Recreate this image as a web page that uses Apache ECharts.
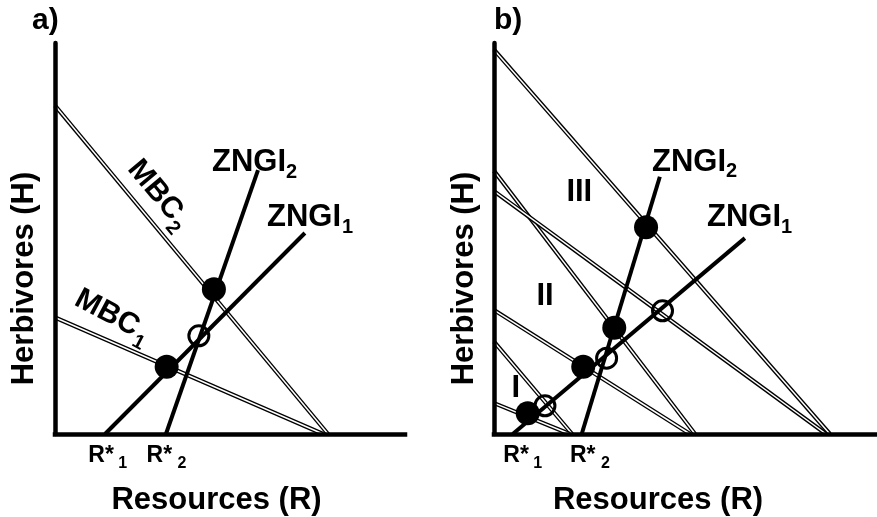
<!DOCTYPE html>
<html>
<head>
<meta charset="utf-8">
<script src="https://cdn.jsdelivr.net/npm/echarts@6/dist/echarts.min.js"></script>
<style>
  html, body { margin: 0; background: #fff; }
  #chart { width: 877px; height: 517px; }
</style>
</head>
<body>
<div id="chart"></div>
<script>
// panel a) -- MBC lines, ZNGIs and equilibria (arbitrary units 0-100)
const mbcA1 = [[0, 29.8], [76.6, 0]];
const mbcA2 = [[0, 84.0], [78.0, 0]];
const zngiA1 = [[14.3, 0], [71.4, 51.4]];
const zngiA2 = [[31.7, 0], [58.0, 67.5]];
const stableA = [[31.9, 17.2], [45.4, 37.0]];
const unstableA = [[41.1, 25.1]];

// panel b) -- three pairs of MBC lines (regions I, II, III)
const mbcB1 = [[0, 98.3], [87.7, 0]];
const mbcB2 = [[0, 67.3], [52.5, 0]];
const mbcB3 = [[0, 62.1], [86.7, 0]];
const mbcB4 = [[0, 31.7], [51.2, 0]];
const mbcB5 = [[0, 23.6], [20.4, 0]];
const mbcB6 = [[0, 7.9], [19.8, 0]];
const zngiB1 = [[4.9, 0], [65.5, 50.1]];
const zngiB2 = [[22.9, 0], [43.3, 65.8]];
const stableB = [[39.7, 52.9], [31.4, 27.2], [23.3, 17.2], [8.8, 5.3]];
const unstableB = [[44.0, 31.5], [29.4, 19.4], [13.3, 7.2]];

const FONT = "'Liberation Sans', Arial, Helvetica, sans-serif";

// double (outlined) line = wide black line with a thin white one on top
function doubleLine(data, g) {
  const base = { type: "line", xAxisIndex: g, yAxisIndex: g, data: data, symbol: "none", silent: true, z: 2, animation: false };
  return [
    Object.assign({}, base, { lineStyle: { color: "#000", width: 4.2 } }),
    Object.assign({}, base, { lineStyle: { color: "#fff", width: 1.5 } })
  ];
}
function solidLine(data, g) {
  return { type: "line", xAxisIndex: g, yAxisIndex: g, data: data, symbol: "none", silent: true, z: 3, animation: false,
    lineStyle: { color: "#000", width: 4 } };
}
function dots(data, g, open) {
  return { type: "scatter", xAxisIndex: g, yAxisIndex: g, data: data, symbol: "circle", silent: true, z: 4, animation: false,
    symbolSize: open ? 20 : 24,
    itemStyle: open ? { color: "rgba(0,0,0,0)", borderColor: "#000", borderWidth: 3, opacity: 1 }
                    : { color: "#000", opacity: 1 } };
}

function txt(x, y, s, size, align) {
  return { type: "text", x: x, y: y, silent: true,
    style: { text: s, fontSize: size, fontWeight: "bold", fontFamily: FONT, fill: "#000",
      align: align || "left", verticalAlign: "middle", textAlign: align || "left", textVerticalAlign: "middle" } };
}
// main text + subscript; mx shifts the main text inside the group
function subTxt(x, y, main, sub, size, subSize, sx, sy, mx) {
  return { type: "group", x: x, y: y, children: [txt(mx || 0, 0, main, size), txt(sx, sy, sub, subSize)] };
}
function rotated(el, rot) {
  el.rotation = rot;
  return el;
}

const chart = echarts.init(document.getElementById("chart"));

const axisCommon = {
  type: "value", min: 0, max: 100, z: 5,
  axisTick: { show: false }, axisLabel: { show: false }, splitLine: { show: false }
};
const xLine = { show: true, lineStyle: { color: "#000", width: 4.5, cap: "square" } };
const yLine = { show: true, lineStyle: { color: "#000", width: 4.5 } };

const option = {
  backgroundColor: "#fff",
  animation: false,
  grid: [
    { left: 55, top: 43, width: 350, height: 391 },
    { left: 494, top: 43, width: 383, height: 391 }
  ],
  xAxis: [
    Object.assign({}, axisCommon, { gridIndex: 0, axisLine: xLine }),
    Object.assign({}, axisCommon, { gridIndex: 1, axisLine: xLine })
  ],
  yAxis: [
    Object.assign({}, axisCommon, { gridIndex: 0, axisLine: yLine }),
    Object.assign({}, axisCommon, { gridIndex: 1, axisLine: yLine })
  ],
  series: [].concat(
    doubleLine(mbcA2, 0), doubleLine(mbcA1, 0),
    [solidLine(zngiA1, 0), solidLine(zngiA2, 0), dots(stableA, 0, false), dots(unstableA, 0, true)],
    doubleLine(mbcB1, 1), doubleLine(mbcB2, 1), doubleLine(mbcB3, 1),
    doubleLine(mbcB4, 1), doubleLine(mbcB5, 1), doubleLine(mbcB6, 1),
    [solidLine(zngiB1, 1), solidLine(zngiB2, 1), dots(stableB, 1, false), dots(unstableB, 1, true)]
  ),
  graphic: [
    // panel a
    txt(32, 21, "a)", 30),
    subTxt(212, 162, "ZNGI", "2", 31, 20, 74, 10),
    subTxt(267, 217.5, "ZNGI", "1", 31, 20, 75, 9.5),
    rotated(subTxt(155, 190, "MBC", "2", 30, 20, 35, 11, -34), -0.873),
    rotated(subTxt(107, 313, "MBC", "1", 30, 20, 36, 11.5, -34), -0.49),
    subTxt(88.3, 456, "R*", "1", 23, 16, 30, 8),
    subTxt(146.6, 456, "R*", "2", 23, 16, 31, 8),
    txt(216.5, 500, "Resources (R)", 31, "center"),
    rotated(txt(24.5, 278.5, "Herbivores (H)", 31, "center"), Math.PI / 2),
    // panel b
    txt(494, 21, "b)", 30),
    subTxt(652, 162.5, "ZNGI", "2", 31, 20, 74, 9),
    subTxt(707, 217.5, "ZNGI", "1", 31, 20, 74, 9.5),
    txt(579.3, 192.5, "III", 31, "center"),
    txt(545, 296.3, "II", 31, "center"),
    txt(515.7, 388.3, "I", 31, "center"),
    subTxt(503.3, 456, "R*", "1", 23, 16, 30, 8),
    subTxt(570, 456, "R*", "2", 23, 16, 31, 8),
    txt(658, 500, "Resources (R)", 31, "center"),
    rotated(txt(464.7, 278.5, "Herbivores (H)", 31, "center"), Math.PI / 2)
  ]
};

chart.setOption(option);
</script>
</body>
</html>
